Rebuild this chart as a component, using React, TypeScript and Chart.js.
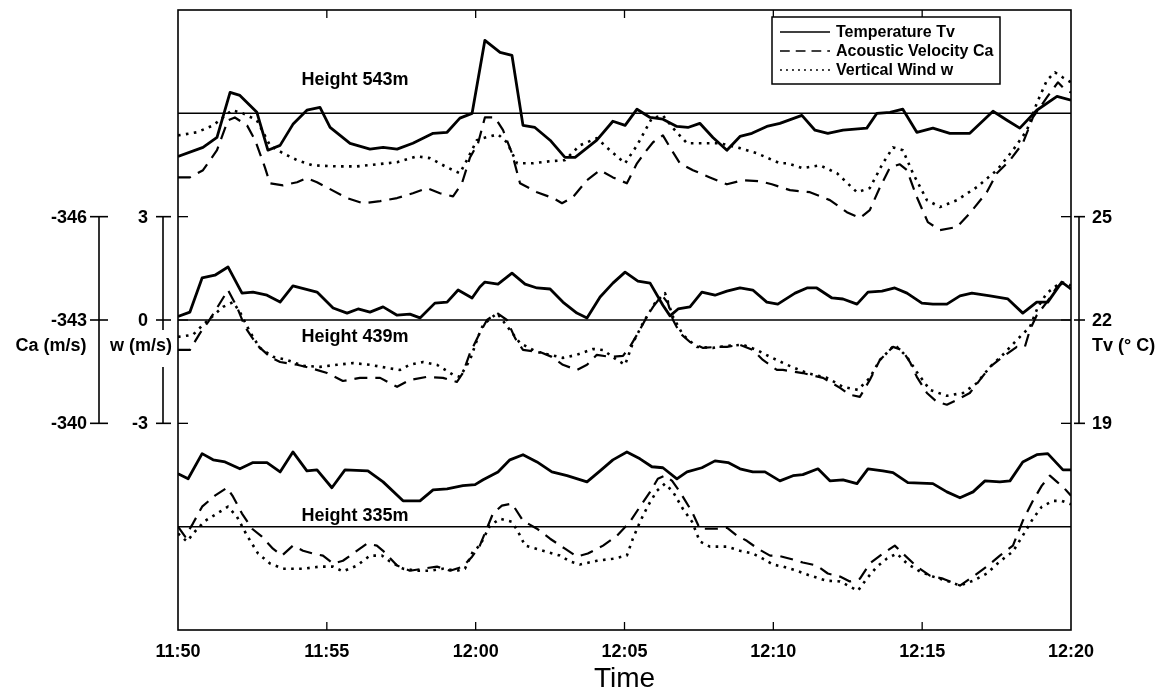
import { useEffect, useRef } from "react";
import { Chart, registerables } from "chart.js";

Chart.register(...registerables);

// ---------- data ----------
const timeTicks = [0, 5, 10, 15, 20, 25, 30]; // minutes after 11:50
const timeLabels = ["11:50", "11:55", "12:00", "12:05", "12:10", "12:15", "12:20"];
const heightNames = ["Height 543m", "Height 439m", "Height 335m"];
const levelOffsets = [6, 0, -6]; // reference level of each height, in axis units
const caTicks = [-346, -343, -340];
const wTicks = [3, 0, -3];
const tvTicks = [25, 22, 19];
const caRef = -343;
const tvRef = 22;
const legendLabels = ["Temperature Tv", "Acoustic Velocity Ca", "Vertical Wind w"];

// [minutes after 11:50, deviation from the height's reference level in axis units]
const tv543: [number, number][] = [[0,-1.25],[0.84,-0.99],[1.31,-0.7],[1.75,0.61],[2.08,0.52],[2.65,0.03],[3.02,-1.07],[3.43,-0.93],[3.86,-0.32],[4.33,0.09],[4.77,0.17],[5.11,-0.41],[5.78,-0.87],[6.45,-1.04],[6.89,-0.99],[7.36,-1.04],[7.89,-0.87],[8.57,-0.58],[9.04,-0.55],[9.47,-0.14],[9.88,0],[10.31,2.12],[10.82,1.77],[11.22,1.68],[11.59,-0.35],[11.99,-0.41],[12.5,-0.78],[13.0,-1.28],[13.34,-1.28],[14.07,-0.78],[14.61,-0.23],[15.02,-0.35],[15.42,0.12],[15.86,-0.12],[16.29,-0.17],[16.76,-0.38],[17.13,-0.41],[17.53,-0.29],[17.97,-0.7],[18.44,-1.07],[18.88,-0.67],[19.28,-0.58],[19.78,-0.38],[20.22,-0.29],[20.96,-0.06],[21.4,-0.49],[21.83,-0.58],[22.34,-0.49],[23.14,-0.43],[23.48,0],[23.92,0.03],[24.35,0.12],[24.82,-0.55],[25.36,-0.43],[25.93,-0.58],[26.6,-0.58],[27.38,0.06],[27.85,-0.2],[28.28,-0.43],[28.85,0.09],[29.53,0.49],[30,0.38]];
const ca543: [number, number][] = [[0,-1.86],[0.4,-1.86],[0.84,-1.65],[1.31,-1.07],[1.68,-0.2],[1.91,-0.12],[2.32,-0.35],[2.59,-0.78],[2.92,-1.57],[3.09,-2.03],[3.53,-2.09],[4.0,-2.0],[4.33,-1.88],[4.67,-2.0],[5.11,-2.2],[5.68,-2.46],[6.21,-2.61],[6.79,-2.55],[7.36,-2.46],[7.89,-2.32],[8.36,-2.17],[8.8,-2.32],[9.24,-2.41],[9.54,-2.03],[9.81,-1.28],[10.08,-0.87],[10.31,-0.12],[10.65,-0.12],[10.92,-0.49],[11.22,-1.16],[11.49,-2.03],[12.06,-2.29],[12.6,-2.46],[12.9,-2.61],[13.27,-2.43],[13.74,-1.94],[14.18,-1.65],[14.61,-1.86],[15.08,-2.03],[15.42,-1.45],[15.69,-1.13],[15.96,-0.84],[16.29,-0.64],[16.53,-0.99],[16.86,-1.45],[17.3,-1.65],[17.87,-1.86],[18.44,-2.06],[18.98,-1.94],[19.55,-1.97],[19.95,-2.06],[20.56,-2.23],[21.23,-2.29],[21.9,-2.52],[22.47,-2.87],[22.91,-3.04],[23.24,-2.81],[23.58,-2.15],[23.92,-1.57],[24.25,-1.48],[24.49,-1.65],[24.82,-2.43],[25.19,-3.16],[25.6,-3.39],[26.17,-3.3],[26.6,-2.9],[27.17,-2.29],[27.51,-1.74],[27.95,-1.36],[28.38,-0.87],[28.72,-0.12],[29.19,0.46],[29.56,0.9],[29.73,0.75],[30,0.6]];
const w543: [number, number][] = [[0,-0.64],[0.64,-0.55],[1.18,-0.35],[1.51,-0.12],[1.81,0.09],[2.18,0],[2.65,-0.2],[3.09,-0.93],[3.53,-1.16],[4.0,-1.36],[4.53,-1.51],[5.34,-1.54],[6.01,-1.54],[6.68,-1.48],[7.36,-1.42],[8.03,-1.25],[8.46,-1.3],[9.04,-1.57],[9.47,-1.74],[9.74,-1.3],[10.04,-0.78],[10.25,-0.72],[10.75,-0.61],[11.05,-0.84],[11.39,-1.45],[11.92,-1.45],[12.5,-1.39],[13.0,-1.36],[13.5,-0.93],[14.07,-0.72],[14.51,-1.07],[15.02,-1.45],[15.42,-0.93],[15.75,-0.41],[15.92,-0.14],[16.29,-0.06],[16.63,-0.43],[17.1,-0.87],[17.64,-0.87],[18.21,-0.87],[18.88,-1.01],[19.45,-1.16],[20.22,-1.45],[20.46,-1.45],[20.99,-1.59],[21.57,-1.51],[22.14,-1.74],[22.81,-2.29],[23.24,-2.17],[23.68,-1.45],[24.02,-0.99],[24.35,-1.07],[24.69,-1.74],[25.16,-2.52],[25.6,-2.72],[26.17,-2.52],[26.84,-2.14],[27.51,-1.65],[28.05,-1.07],[28.52,-0.49],[28.85,0.29],[29.19,0.96],[29.46,1.19],[29.73,1.04],[30,0.9]];

const tv439: [number, number][] = [[0,0.1],[0.4,0.23],[0.81,1.22],[1.24,1.3],[1.68,1.54],[2.15,0.78],[2.52,0.81],[2.99,0.72],[3.43,0.52],[3.86,0.99],[4.67,0.81],[5.21,0.35],[5.68,0.2],[6.05,0.32],[6.45,0.23],[6.89,0.38],[7.36,0.14],[7.79,0.17],[8.13,0.06],[8.63,0.49],[9.04,0.52],[9.41,0.87],[9.88,0.64],[10.14,0.96],[10.31,1.1],[10.75,1.04],[11.22,1.36],[11.66,1.04],[12.06,0.93],[12.5,0.9],[12.93,0.52],[13.4,0.2],[13.74,0.06],[14.18,0.67],[14.61,1.07],[15.02,1.39],[15.45,1.13],[15.86,1.07],[16.29,0.43],[16.53,0.12],[16.8,0.32],[17.2,0.38],[17.6,0.81],[18.04,0.72],[18.44,0.84],[18.88,0.93],[19.31,0.87],[19.78,0.52],[20.15,0.46],[20.73,0.78],[21.13,0.93],[21.46,0.93],[21.97,0.64],[22.34,0.61],[22.81,0.46],[23.18,0.81],[23.65,0.84],[24.08,0.93],[24.49,0.78],[24.99,0.49],[25.36,0.46],[25.83,0.46],[26.27,0.7],[26.67,0.78],[27.28,0.7],[27.88,0.61],[28.38,0.2],[28.85,0.52],[29.22,0.52],[29.69,1.1],[30,0.9]];
const ca439: [number, number][] = [[0,-0.87],[0.4,-0.87],[0.74,-0.38],[1.01,-0.06],[1.31,0.35],[1.68,0.87],[1.98,0.38],[2.25,-0.2],[2.65,-0.72],[3.09,-1.07],[3.43,-1.22],[4.0,-1.3],[4.43,-1.39],[5.01,-1.54],[5.54,-1.77],[6.11,-1.68],[6.79,-1.68],[7.36,-1.94],[7.79,-1.74],[8.36,-1.65],[8.9,-1.68],[9.37,-1.8],[9.57,-1.54],[9.81,-0.96],[10.14,-0.38],[10.38,0],[10.72,0.2],[11.05,0],[11.32,-0.52],[11.59,-0.87],[12.16,-0.93],[12.56,-1.07],[12.93,-1.3],[13.4,-1.45],[13.74,-1.3],[14.07,-1.01],[14.51,-1.07],[14.95,-1.04],[15.18,-0.78],[15.42,-0.43],[15.75,0.09],[15.96,0.38],[16.26,0.72],[16.46,0.49],[16.63,0],[16.86,-0.38],[17.2,-0.64],[17.64,-0.81],[18.11,-0.78],[18.44,-0.78],[18.88,-0.72],[19.31,-0.87],[19.65,-1.16],[20.12,-1.45],[20.32,-1.45],[20.99,-1.54],[21.67,-1.68],[22.24,-1.97],[22.57,-2.17],[22.91,-2.23],[23.24,-1.74],[23.58,-1.16],[24.02,-0.78],[24.32,-0.87],[24.59,-1.22],[24.82,-1.65],[25.16,-2.12],[25.5,-2.38],[25.83,-2.46],[26.17,-2.32],[26.6,-2.12],[26.94,-1.74],[27.28,-1.36],[27.71,-1.07],[28.18,-0.78],[28.45,-0.78],[28.62,-0.29],[28.85,0.14],[29.19,0.52],[29.53,0.96],[29.73,1.07],[30,0.9]];
const w439: [number, number][] = [[0,-0.49],[0.5,-0.43],[0.84,-0.14],[1.14,0.09],[1.51,0.38],[1.85,0.52],[2.08,0.23],[2.42,-0.35],[2.75,-0.81],[3.19,-1.07],[3.66,-1.16],[4.2,-1.33],[4.77,-1.36],[5.34,-1.3],[5.88,-1.25],[6.45,-1.3],[7.02,-1.39],[7.46,-1.45],[7.79,-1.3],[8.23,-1.22],[8.7,-1.3],[9.24,-1.59],[9.47,-1.65],[9.81,-1.16],[10.08,-0.49],[10.25,-0.14],[10.72,0.2],[11.15,-0.29],[11.49,-0.67],[12.06,-0.93],[12.5,-1.01],[12.93,-1.1],[13.4,-1.01],[13.94,-0.84],[14.28,-0.87],[14.75,-1.16],[15.02,-1.3],[15.28,-0.67],[15.62,-0.09],[16.02,0.49],[16.36,0.78],[16.63,0.09],[16.96,-0.43],[17.43,-0.78],[17.97,-0.81],[18.44,-0.75],[18.98,-0.72],[19.45,-0.87],[19.89,-1.07],[20.46,-1.3],[21.13,-1.54],[21.8,-1.68],[22.34,-1.94],[22.84,-2.03],[23.24,-1.68],[23.58,-1.16],[24.08,-0.72],[24.49,-1.07],[24.82,-1.51],[25.26,-2.03],[25.83,-2.2],[26.37,-2.12],[26.84,-1.83],[27.28,-1.36],[27.71,-1.01],[28.18,-0.58],[28.62,-0.2],[28.89,0.38],[29.19,0.78],[29.53,1.01],[29.69,1.1],[30,1.0]];

const tv335: [number, number][] = [[0,1.54],[0.34,1.39],[0.81,2.12],[1.18,1.94],[1.58,1.88],[2.08,1.68],[2.52,1.86],[2.99,1.86],[3.43,1.59],[3.86,2.17],[4.33,1.62],[4.67,1.65],[5.17,1.13],[5.61,1.65],[6.38,1.62],[6.89,1.3],[7.56,0.75],[8.13,0.75],[8.57,1.07],[9.04,1.1],[9.57,1.19],[9.98,1.22],[10.25,1.36],[10.75,1.59],[11.15,1.94],[11.59,2.09],[12.06,1.88],[12.56,1.59],[13.07,1.48],[13.74,1.3],[14.18,1.62],[14.61,1.94],[15.08,2.17],[15.52,1.97],[15.92,1.74],[16.29,1.71],[16.76,1.39],[17.1,1.59],[17.6,1.71],[18.04,1.91],[18.48,1.86],[18.88,1.68],[19.31,1.59],[19.72,1.59],[20.22,1.33],[20.66,1.48],[20.99,1.51],[21.5,1.68],[21.9,1.33],[22.34,1.36],[22.81,1.25],[23.18,1.68],[23.68,1.62],[24.02,1.57],[24.52,1.28],[25.36,1.25],[25.83,1.01],[26.27,0.84],[26.71,1.01],[27.11,1.33],[27.61,1.3],[27.95,1.33],[28.38,1.88],[28.85,2.09],[29.22,2.12],[29.73,1.65],[30,1.65]];
const ca335: [number, number][] = [[0,0],[0.24,-0.29],[0.5,0.09],[0.81,0.58],[1.24,0.9],[1.65,1.13],[1.85,0.87],[2.15,0.38],[2.49,-0.06],[2.82,-0.29],[3.19,-0.64],[3.49,-0.84],[3.86,-0.55],[4.2,-0.7],[4.53,-0.78],[4.87,-0.84],[5.21,-1.07],[5.54,-0.99],[5.88,-0.78],[6.35,-0.49],[6.68,-0.55],[6.89,-0.7],[7.36,-1.13],[7.79,-1.28],[8.23,-1.22],[8.7,-1.16],[9.14,-1.28],[9.57,-1.16],[9.88,-0.87],[10.14,-0.55],[10.58,0.38],[10.88,0.61],[11.22,0.67],[11.59,0.17],[12.06,-0.06],[12.5,-0.35],[13.0,-0.64],[13.4,-0.87],[13.77,-0.78],[14.28,-0.55],[14.75,-0.26],[15.18,0.14],[15.52,0.58],[15.86,1.01],[16.12,1.39],[16.36,1.48],[16.6,1.33],[16.86,1.01],[17.27,0.43],[17.53,-0.06],[18.11,-0.06],[18.44,-0.03],[18.78,-0.26],[19.11,-0.41],[19.48,-0.64],[19.89,-0.84],[20.15,-0.84],[20.56,-0.93],[20.99,-1.04],[21.46,-1.13],[21.83,-1.36],[22.24,-1.45],[22.57,-1.59],[22.91,-1.51],[23.24,-1.07],[23.68,-0.78],[24.08,-0.55],[24.35,-0.78],[24.82,-1.16],[25.26,-1.42],[25.7,-1.51],[26.27,-1.71],[26.71,-1.45],[27.17,-1.16],[27.61,-0.84],[28.05,-0.55],[28.38,0.17],[28.72,0.75],[29.02,1.19],[29.29,1.48],[29.53,1.3],[29.79,1.1],[30,0.9]];
const w335: [number, number][] = [[0,-0.2],[0.3,-0.43],[0.57,-0.14],[0.91,0.17],[1.31,0.38],[1.68,0.58],[1.98,0.29],[2.32,-0.26],[2.69,-0.78],[3.09,-1.07],[3.53,-1.22],[4.2,-1.22],[4.77,-1.16],[5.21,-1.16],[5.54,-1.3],[6.01,-1.13],[6.45,-0.84],[6.85,-0.84],[7.12,-1.01],[7.56,-1.22],[8.03,-1.28],[8.46,-1.28],[8.9,-1.22],[9.37,-1.28],[9.64,-1.22],[9.91,-0.72],[10.14,-0.55],[10.48,0.03],[10.82,0.23],[11.22,0.14],[11.42,-0.14],[11.66,-0.55],[12.26,-0.7],[12.83,-0.84],[13.17,-1.01],[13.5,-1.1],[14.07,-0.99],[14.61,-0.93],[15.08,-0.84],[15.28,-0.35],[15.52,0.14],[15.79,0.61],[16.09,1.04],[16.36,1.25],[16.63,1.01],[16.96,0.52],[17.27,0.14],[17.53,-0.43],[17.87,-0.58],[18.44,-0.58],[18.88,-0.7],[19.31,-0.78],[19.65,-0.93],[19.99,-1.1],[20.32,-1.16],[20.79,-1.28],[21.23,-1.42],[21.8,-1.57],[22.24,-1.59],[22.57,-1.74],[22.84,-1.86],[23.14,-1.51],[23.48,-1.16],[23.81,-0.93],[24.15,-0.78],[24.49,-1.07],[24.92,-1.3],[25.36,-1.45],[25.83,-1.57],[26.27,-1.71],[26.71,-1.57],[27.17,-1.36],[27.61,-1.01],[28.05,-0.72],[28.38,-0.26],[28.72,0.23],[29.02,0.58],[29.39,0.75],[29.69,0.75],[30,0.65]];

// ---------- styles ----------
const FONT = "'Liberation Sans', Arial, Helvetica, sans-serif";
const solidStyle = { borderWidth: 2.8, borderDash: [] as number[] };
const dashStyle = { borderWidth: 2.2, borderDash: [13, 8] };
const dotStyle = { borderWidth: 2.6, borderDash: [2.6, 5.4] };

const overlayPlugin = {
  id: "overlay",
  afterDatasetsDraw(chart: any) {
    const { ctx, chartArea: a, scales } = chart;
    const xs = scales.x;
    const ys = scales.y;
    const line = (x1: number, y1: number, x2: number, y2: number) => {
      ctx.beginPath();
      ctx.moveTo(x1, y1);
      ctx.lineTo(x2, y2);
      ctx.stroke();
    };
    ctx.save();
    ctx.strokeStyle = "#000";
    ctx.fillStyle = "#000";
    ctx.setLineDash([]);

    // frame
    ctx.lineWidth = 1.6;
    ctx.strokeRect(a.left, a.top, a.right - a.left, a.bottom - a.top);

    // inward ticks
    ctx.lineWidth = 1.3;
    timeTicks.slice(1, -1).forEach((t) => {
      const px = xs.getPixelForValue(t);
      line(px, a.bottom, px, a.bottom - 8);
      line(px, a.top, px, a.top + 8);
    });
    wTicks.forEach((v) => {
      const py = ys.getPixelForValue(v);
      line(a.left, py, a.left + 10, py);
      line(a.right, py, a.right - 10, py);
    });

    // height labels
    const labelPos = [0.96, -0.5, 0.32];
    ctx.font = `bold 18px ${FONT}`;
    ctx.textAlign = "center";
    ctx.textBaseline = "middle";
    heightNames.forEach((name, i) => {
      ctx.fillText(name, xs.getPixelForValue(5.95), ys.getPixelForValue(levelOffsets[i] + labelPos[i]));
    });

    // scale bars (439m reference)
    const yTop = ys.getPixelForValue(wTicks[0]);
    const yBot = ys.getPixelForValue(wTicks[wTicks.length - 1]);
    const yCap = ys.getPixelForValue(0) + 26;
    ctx.lineWidth = 1.6;
    ctx.font = `bold 18px ${FONT}`;

    // Ca
    const caX = 99;
    line(caX, yTop, caX, yBot);
    ctx.textAlign = "right";
    caTicks.forEach((v) => {
      const py = ys.getPixelForValue(-(v - caRef));
      line(caX - 9, py, caX + 9, py);
      ctx.fillText(String(v), caX - 12, py + 1);
    });
    ctx.textAlign = "center";
    ctx.fillText("Ca (m/s)", 51, yCap);

    // w
    const wX = 163;
    line(wX, yTop, wX, yCap - 16);
    line(wX, yCap + 21, wX, yBot);
    ctx.textAlign = "right";
    wTicks.forEach((v) => {
      const py = ys.getPixelForValue(v);
      line(wX - 7, py, wX + 8, py);
      ctx.fillText(String(v), wX - 15, py + 1);
    });
    ctx.textAlign = "center";
    ctx.fillText("w (m/s)", 141, yCap);

    // Tv
    const tvX = 1079;
    line(tvX, yTop, tvX, yBot);
    ctx.textAlign = "left";
    tvTicks.forEach((v) => {
      const py = ys.getPixelForValue(v - tvRef);
      line(tvX - 5, py, tvX + 6, py);
      ctx.fillText(String(v), 1092, py + 1);
    });
    ctx.fillText("Tv (\u00B0 C)", 1092, yCap);

    // legend
    const lx = 772, ly = 17, lw = 228, lh = 67;
    ctx.fillStyle = "#fff";
    ctx.fillRect(lx, ly, lw, lh);
    ctx.fillStyle = "#000";
    ctx.lineWidth = 1.5;
    ctx.strokeRect(lx, ly, lw, lh);
    const styles = [solidStyle, dashStyle, dotStyle];
    ctx.font = `bold 16px ${FONT}`;
    ctx.textAlign = "left";
    legendLabels.forEach((lab, i) => {
      const ry = ly + 15 + i * 19;
      ctx.lineWidth = 1.6;
      ctx.setLineDash(styles[i].borderDash.map((d: number) => d * 0.75));
      line(lx + 8, ry, lx + 58, ry);
      ctx.setLineDash([]);
      ctx.fillText(lab, lx + 64, ry + 1);
    });
    ctx.restore();
  },
};

export default function App() {
  const ref = useRef<HTMLCanvasElement | null>(null);
  useEffect(() => {
    if (!ref.current) return;
    const toXY = (arr: [number, number][], off: number) => arr.map(([t, v]) => ({ x: t, y: v + off }));
    const datasets: any[] = [];
    levelOffsets.forEach((off) => {
      datasets.push({
        data: [{ x: timeTicks[0], y: off }, { x: timeTicks[timeTicks.length - 1], y: off }],
        borderColor: "#000",
        borderWidth: 1.5,
        pointRadius: 0,
      });
    });
    const series = [
      [tv543, ca543, w543],
      [tv439, ca439, w439],
      [tv335, ca335, w335],
    ];
    const styles = [solidStyle, dashStyle, dotStyle];
    series.forEach((grp, gi) => {
      grp.forEach((arr, si) => {
        datasets.push({
          label: legendLabels[si],
          data: toXY(arr, levelOffsets[gi]),
          borderColor: "#000",
          borderWidth: styles[si].borderWidth,
          borderDash: styles[si].borderDash,
          borderJoinStyle: "round",
          pointRadius: 0,
          tension: 0,
          fill: false,
        });
      });
    });

    const chart = new Chart(ref.current, {
      type: "line",
      data: { datasets },
      options: {
        animation: false,
        responsive: false,
        events: [],
        layout: { padding: { left: 178, right: 103, top: 10, bottom: 0 } },
        plugins: { legend: { display: false }, tooltip: { enabled: false } },
        scales: {
          x: {
            type: "linear",
            min: 0,
            max: 30,
            grid: { display: false, drawTicks: false },
            border: { display: false },
            afterBuildTicks: (s: any) => {
              s.ticks = timeTicks.map((v) => ({ value: v }));
            },
            afterFit: (s: any) => {
              s.height = 67;
            },
            ticks: {
              padding: 11,
              color: "#000",
              maxRotation: 0,
              font: { family: FONT, size: 18, weight: "bold" },
              callback: (_v: any, i: number) => timeLabels[i],
            },
            title: {
              display: true,
              text: "Time",
              color: "#000",
              font: { family: FONT, size: 28, weight: "normal" },
              padding: { top: 0, bottom: 1 },
            },
          },
          y: { type: "linear", min: -9, max: 9, display: false },
        },
      },
      plugins: [overlayPlugin],
    } as any);
    return () => chart.destroy();
  }, []);
  return (
    <div style={{ position: "absolute", left: 0, top: 0, width: 1174, height: 697, background: "#fff" }}>
      <canvas ref={ref} width={1174} height={697} />
    </div>
  );
}
